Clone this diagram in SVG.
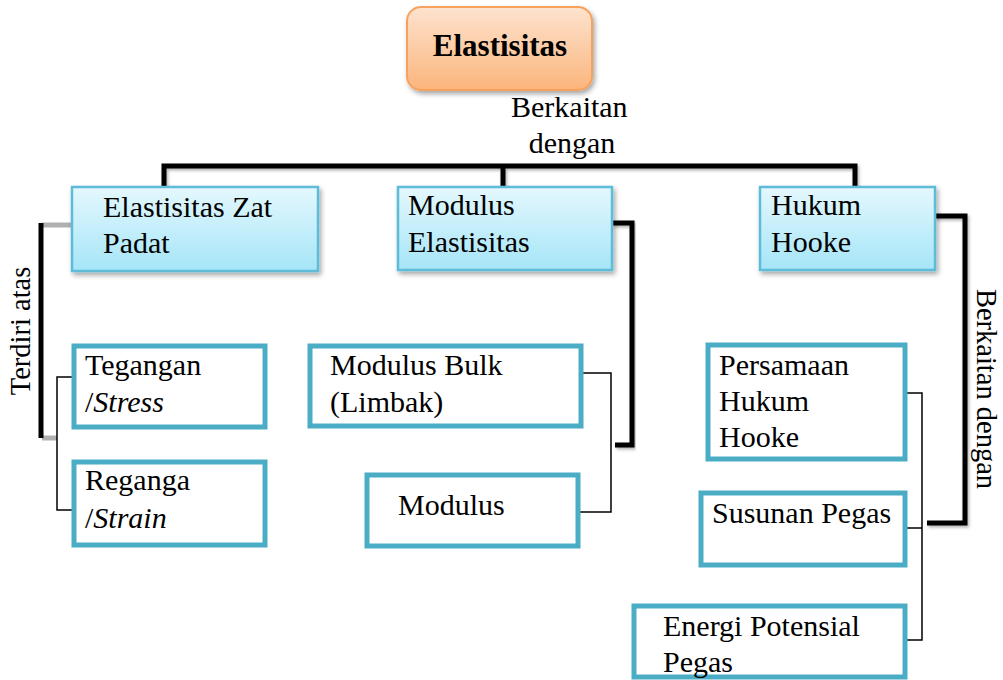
<svg xmlns="http://www.w3.org/2000/svg" width="1003" height="680" viewBox="0 0 1003 680">
  <style>
    text { font-family: "Liberation Serif", "Times New Roman", serif; font-size: 30px; fill: #000; }
    .title { font-weight: bold; font-size: 31px; }
    .side { font-size: 28.5px; }
    .lvl1 { fill: url(#blueGrad); stroke: #5fbcd8; stroke-width: 2.5; filter: url(#shadow); }
    .lvl2 { fill: #fff; stroke: #4bacc6; stroke-width: 5; }
    .thick { fill: none; stroke: #000; stroke-width: 5; filter: url(#lineShadow); }
    .thin { fill: none; stroke: #000; stroke-width: 1.5; }
    .soft { fill: none; stroke: #b0b0b0; stroke-width: 5; }
  </style>
  <defs>
    <linearGradient id="orangeGrad" x1="0" y1="0" x2="0" y2="1">
      <stop offset="0" stop-color="#fde3cf"/>
      <stop offset="1" stop-color="#fbb57c"/>
    </linearGradient>
    <linearGradient id="blueGrad" x1="0" y1="0" x2="0" y2="1">
      <stop offset="0" stop-color="#e4f8fd"/>
      <stop offset="1" stop-color="#a5e5f8"/>
    </linearGradient>
    <filter id="shadow" x="-10%" y="-10%" width="125%" height="135%">
      <feDropShadow dx="2" dy="3" stdDeviation="2.5" flood-color="#000" flood-opacity="0.35"/>
    </filter>
    <filter id="lineShadow" x="-20%" y="-20%" width="140%" height="140%">
      <feDropShadow dx="1.5" dy="2" stdDeviation="1.5" flood-color="#000" flood-opacity="0.3"/>
    </filter>
  </defs>

  <rect width="1003" height="680" fill="#fff"/>

  <!-- connectors -->
  <g id="connectors">
    <!-- root to first level -->
    <line x1="503" y1="97" x2="503" y2="122" class="thick"/>
    <path d="M164 190 V166 H855 V190 M503 166 V190" class="thick"/>
    <!-- Elastisitas Zat Padat bracket -->
    <path d="M72 225 H42" class="soft"/>
    <path d="M42 438 H57" class="soft"/>
    <line x1="41" y1="223" x2="41" y2="438" stroke="#000" stroke-width="5"/>
    <path d="M72 377 H57 V510 H72" class="thin"/>
    <!-- Modulus Elastisitas bracket -->
    <path d="M612 223 H632 V445 H615" class="thick"/>
    <path d="M583 373 H611 V512 H580" class="thin"/>
    <!-- Hukum Hooke bracket -->
    <path d="M935 216 H965 V523 H927" class="thick"/>
    <path d="M907 393 H922 V640 H907 M907 528 H922" class="thin"/>
    <!-- labels -->
    <text x="511" y="117">Berkaitan</text>
    <text x="572" y="153" text-anchor="middle">dengan</text>
    <text class="side" transform="translate(30,331) rotate(-90)" text-anchor="middle">Terdiri atas</text>
    <text class="side" transform="translate(977,389) rotate(90)" text-anchor="middle">Berkaitan dengan</text>
  </g>

  <!-- root -->
  <g id="node-elastisitas">
    <rect x="407" y="7" width="185" height="83" rx="14" fill="url(#orangeGrad)" stroke="#f8a15c" stroke-width="2" filter="url(#shadow)"/>
    <text x="500" y="56" class="title" text-anchor="middle">Elastisitas</text>
  </g>

  <!-- first level -->
  <g id="node-zat-padat">
    <rect x="72" y="187" width="246" height="84" class="lvl1"/>
    <text x="103" y="217">Elastisitas Zat</text>
    <text x="103" y="253">Padat</text>
  </g>
  <g id="node-modulus-elastisitas">
    <rect x="398" y="187" width="214" height="83" class="lvl1"/>
    <text x="408" y="215">Modulus</text>
    <text x="408" y="252">Elastisitas</text>
  </g>
  <g id="node-hukum-hooke">
    <rect x="760" y="187" width="175" height="83" class="lvl1"/>
    <text x="771" y="215">Hukum</text>
    <text x="771" y="252">Hooke</text>
  </g>

  <!-- second level -->
  <g id="node-tegangan">
    <rect x="74" y="346" width="191" height="81" class="lvl2"/>
    <text x="85" y="375">Tegangan</text>
    <text x="85" y="412">/<tspan font-style="italic">Stress</tspan></text>
  </g>
  <g id="node-reganga">
    <rect x="74" y="462" width="191" height="83" class="lvl2"/>
    <text x="85" y="490">Reganga</text>
    <text x="85" y="528">/<tspan font-style="italic">Strain</tspan></text>
  </g>
  <g id="node-modulus-bulk">
    <rect x="310" y="346" width="271" height="80" class="lvl2"/>
    <text x="330" y="375">Modulus Bulk</text>
    <text x="330" y="412">(Limbak)</text>
  </g>
  <g id="node-modulus">
    <rect x="367" y="475" width="211" height="71" class="lvl2"/>
    <text x="398" y="515">Modulus</text>
  </g>
  <g id="node-persamaan">
    <rect x="708" y="345" width="197" height="114" class="lvl2"/>
    <text x="719" y="375">Persamaan</text>
    <text x="719" y="411">Hukum</text>
    <text x="719" y="447">Hooke</text>
  </g>
  <g id="node-susunan">
    <rect x="701" y="493" width="204" height="72" class="lvl2"/>
    <text x="712" y="523">Susunan Pegas</text>
  </g>
  <g id="node-energi">
    <rect x="634" y="606" width="271" height="71" class="lvl2"/>
    <text x="663" y="636">Energi Potensial</text>
    <text x="663" y="672">Pegas</text>
  </g>
</svg>
